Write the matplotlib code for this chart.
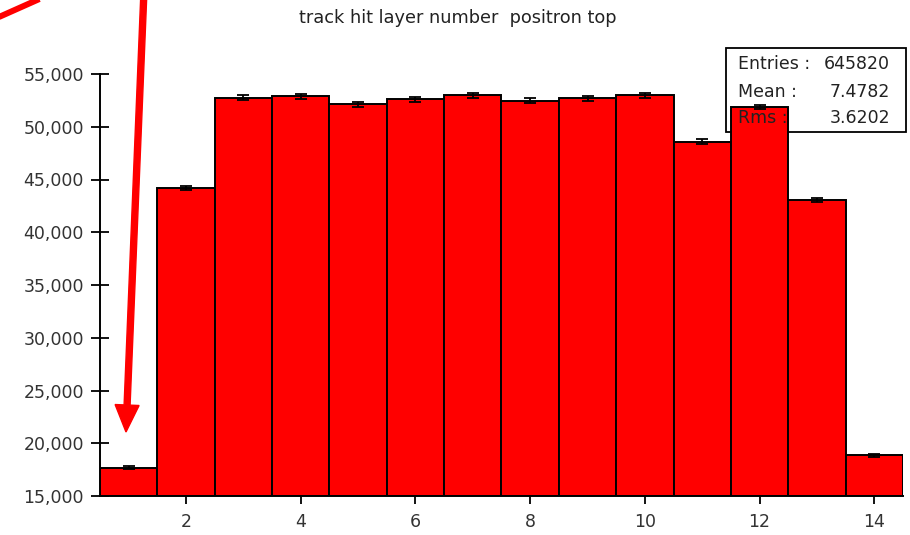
import numpy as np
import matplotlib
matplotlib.use("Agg")
import matplotlib.pyplot as plt
from matplotlib.patches import Rectangle, FancyArrow
from matplotlib.lines import Line2D
from matplotlib.transforms import IdentityTransform
from matplotlib.ticker import FuncFormatter

# hits per layer, one bin per layer number
layers = [1, 2, 3, 4, 5, 6, 7, 8, 9, 10, 11, 12, 13, 14]
counts = [17700, 44180, 52760, 52870, 52120, 52610, 53000,
          52470, 52690, 53000, 48600, 51880, 43060, 18880]
title = "track hit layer number  positron top"
stat_names = ["Entries :", "Mean :", "Rms :"]
stat_values = ["645820", "7.4782", "3.6202"]

plt.rcParams['font.family'] = ['DejaVu Sans']

fig = plt.figure(figsize=(9.1, 5.35), dpi=100)
ax = fig.add_axes([100 / 910, 1 - 496 / 535, 803 / 910, 422 / 535])

x = np.array(layers)
y = np.array(counts)
ax.bar(x, y - 15000, bottom=15000, width=1.0, color='#ff0000',
       edgecolor='black', linewidth=1.4, zorder=2)
ax.errorbar(x, y, yerr=np.sqrt(y), fmt='none', ecolor='black',
            elinewidth=1.3, capsize=4.5, capthick=1.3, zorder=3)

ax.set_xlim(0.5, 14.5)
ax.set_ylim(15000, 55000)
ax.set_xticks([2, 4, 6, 8, 10, 12, 14])
ax.set_yticks(np.arange(15000, 55001, 5000))
ax.yaxis.set_major_formatter(FuncFormatter(lambda v, p: f"{int(v):,}"))

for s in ['top', 'right']:
    ax.spines[s].set_visible(False)
for s in ['left', 'bottom']:
    ax.spines[s].set_linewidth(1.4)

ax.tick_params(axis='y', direction='inout', length=13, width=1.3,
               labelsize=12.5, labelcolor='#333333', pad=5)
ax.tick_params(axis='x', direction='out', length=6, width=1.3,
               labelsize=12.5, labelcolor='#333333', pad=6)

fig.text(0.503, 1 - 18 / 535, title, ha='center', va='center',
         fontsize=12.8, color='#222222')

# stats box sits under the bars, its text on top
box = Rectangle((0.7796, 0.8626), 0.2241, 0.199, transform=ax.transAxes,
                facecolor='white', edgecolor='black', linewidth=1.3,
                clip_on=False, zorder=1.5)
ax.add_patch(box)
for i, (name, val) in enumerate(zip(stat_names, stat_values)):
    yy = [1.0237, 0.958, 0.8957][i]
    ax.text(0.7945, yy, name, transform=ax.transAxes, ha='left', va='center',
            fontsize=12.5, color='#222222', zorder=5, clip_on=False)
    ax.text(0.9838, yy, val, transform=ax.transAxes, ha='right', va='center',
            fontsize=12.5, color='#222222', zorder=5, clip_on=False)

# red pointer arrows drawn in pixel space
fig.patches.append(FancyArrow(144, 545, -18, -442, width=6, head_width=24,
                              head_length=27, length_includes_head=True,
                              color='#ff0000', transform=IdentityTransform(),
                              figure=fig))
fig.lines.append(Line2D([-10, 45], [535 - 21.0, 535 + 3.5], color='#ff0000',
                        linewidth=6 * 72 / 100, transform=IdentityTransform(),
                        figure=fig, solid_capstyle='butt'))

fig.savefig("out.png", dpi=100)
